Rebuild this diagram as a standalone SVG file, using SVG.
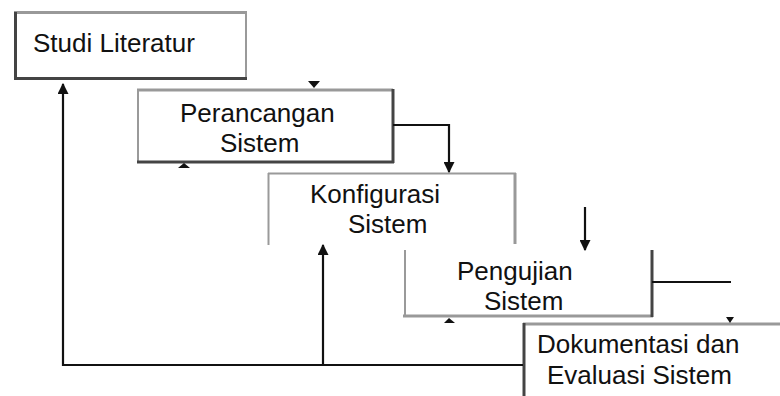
<svg xmlns="http://www.w3.org/2000/svg" width="780" height="396" viewBox="0 0 780 396">
<defs>
<style>
text{font-family:"Liberation Sans",Arial,sans-serif;font-size:26px;fill:#111}
.g{stroke:#9a9a9a;stroke-width:2;fill:none}
.gt{stroke:#999;stroke-width:3;fill:none}
.d{stroke:#444;stroke-width:3;fill:none}
.c{stroke:#111;stroke-width:2.2;fill:none}
.h{fill:#111}
</style>
<marker id="ah" viewBox="0 0 10 10" refX="9" refY="5" markerWidth="5" markerHeight="5" orient="auto">
<path d="M0,0 L10,5 L0,10 z" fill="#111"/>
</marker>
</defs>
<rect width="780" height="396" fill="#fff"/>
<g id="studi-literatur">
<line class="gt" x1="14" y1="12.5" x2="247" y2="12.5"/>
<line class="g" x1="246" y1="12" x2="246" y2="79"/>
<line class="d" x1="15.5" y1="12" x2="15.5" y2="79"/>
<line class="d" x1="14" y1="78.5" x2="247" y2="78.5"/>
<text x="33" y="52">Studi Literatur</text>
</g>
<g id="perancangan-sistem">
<line class="gt" x1="137" y1="90" x2="393" y2="90"/>
<line class="g" x1="138" y1="90" x2="138" y2="163"/>
<line class="d" x1="393" y1="89" x2="393" y2="163"/>
<line class="d" x1="137" y1="162" x2="394" y2="162"/>
<text x="180" y="122">Perancangan</text>
<text x="220" y="152">Sistem</text>
</g>
<g id="konfigurasi-sistem">
<line class="g" x1="268" y1="173.5" x2="516" y2="173.5"/>
<line class="g" x1="268.5" y1="173" x2="268.5" y2="245"/>
<line class="gt" x1="515" y1="173" x2="515" y2="244"/>
<text x="310" y="203">Konfigurasi</text>
<text x="348" y="233">Sistem</text>
</g>
<g id="pengujian-sistem">
<line class="g" x1="405" y1="250" x2="405" y2="316"/>
<line class="gt" x1="403" y1="316" x2="653" y2="316"/>
<line class="d" x1="652" y1="250" x2="652" y2="317"/>
<text x="457" y="280">Pengujian</text>
<text x="484" y="310">Sistem</text>
</g>
<g id="dokumentasi-evaluasi">
<line class="gt" x1="523" y1="324" x2="780" y2="324"/>
<line class="d" x1="524" y1="323" x2="524" y2="396"/>
<text x="537" y="353">Dokumentasi dan</text>
<text x="547" y="384">Evaluasi Sistem</text>
</g>
<g id="connectors">
<polyline class="c" points="523,365 63,365 63,84" marker-end="url(#ah)"/>
<line class="c" x1="323" y1="365" x2="323" y2="245" marker-end="url(#ah)"/>
<polyline class="c" points="393,125 449,125 449,172" marker-end="url(#ah)"/>
<line class="c" x1="585" y1="207" x2="585" y2="250" marker-end="url(#ah)"/>
<line class="c" x1="652" y1="282" x2="731" y2="282"/>
<path class="h" d="M308,81 L320,81 L314,88 z"/>
<path class="h" d="M178,168 L190,168 L184,163 z"/>
<path class="h" d="M444,323 L455,323 L449,318 z"/>
<path class="h" d="M726,317 L734,317 L730,323 z"/>
</g>
</svg>
